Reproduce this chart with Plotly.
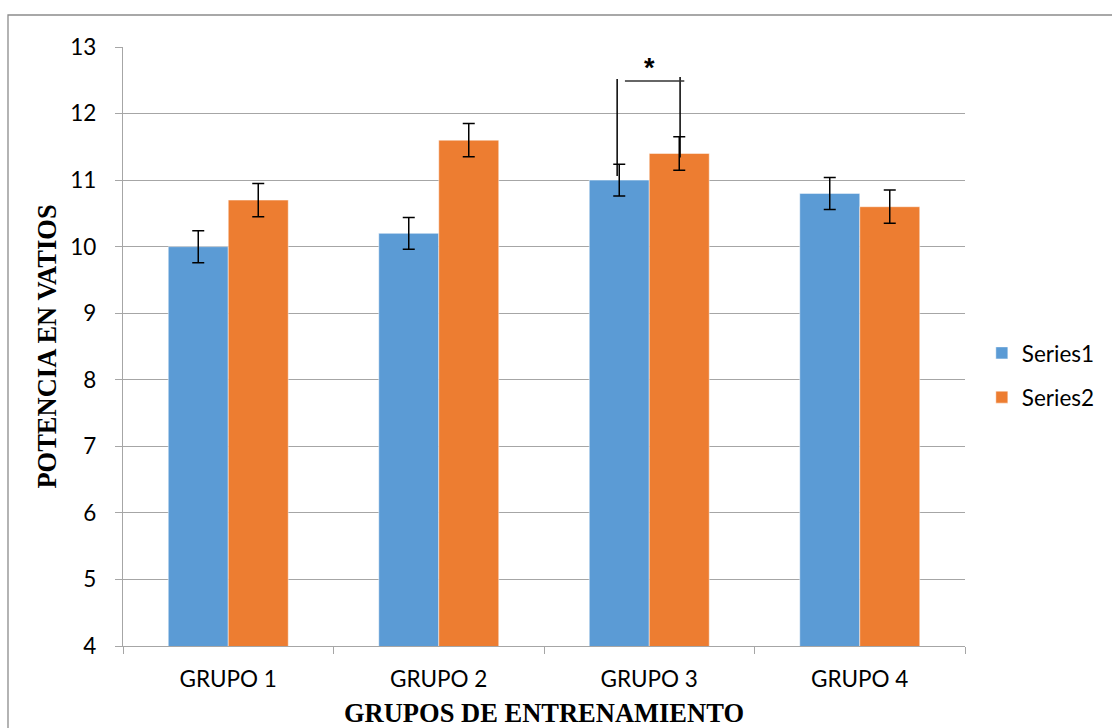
import plotly.graph_objects as go

categories = ["GRUPO 1", "GRUPO 2", "GRUPO 3", "GRUPO 4"]
series1 = [10.0, 10.2, 11.0, 10.8]
series2 = [10.7, 11.6, 11.4, 10.6]
series1_err = [0.24, 0.24, 0.24, 0.24]
series2_err = [0.25, 0.25, 0.25, 0.25]
y_ticks = [4, 5, 6, 7, 8, 9, 10, 11, 12, 13]

# significance bracket (GRUPO 3)
sig_group = 2
sig_left_top, sig_left_bottom = 12.52, 11.06
sig_right_top, sig_right_bottom = 12.55, 11.34
sig_bar_y = 12.49
sig_label = "*"
sig_label_y = 12.68

BLUE = "#5B9BD5"
ORANGE = "#ED7D31"
GRID = "#A6A6A6"

W, H = 1112, 728
ML, MR, MT, MB = 123, 147, 47, 82
bargap = 0.43
half = (1 - bargap) / 2  # width of one bar in category units

fig = go.Figure()
fig.add_trace(go.Bar(
    name="Series1", x=categories, y=series1, legendgroup="a",
    marker=dict(color=BLUE, line=dict(color="rgba(255,255,255,0.6)", width=0.8)),
    error_y=dict(type="data", array=series1_err, color="black", thickness=1.5, width=6),
))
fig.add_trace(go.Bar(
    name="Series2", x=categories, y=series2, legendgroup="b",
    marker=dict(color=ORANGE, line=dict(color="rgba(255,255,255,0.6)", width=0.8)),
    error_y=dict(type="data", array=series2_err, color="black", thickness=1.5, width=6),
))

lx = sig_group - half / 2 - 0.01
rx = sig_group + half / 2 + 0.004
shapes = [
    dict(type="line", xref="x", yref="y", x0=lx, x1=lx, y0=sig_left_bottom, y1=sig_left_top,
         line=dict(color="black", width=1.5)),
    dict(type="line", xref="x", yref="y", x0=rx, x1=rx, y0=sig_right_bottom, y1=sig_right_top,
         line=dict(color="black", width=1.5)),
    dict(type="line", xref="x", yref="y", x0=lx + 0.037, x1=rx + 0.02, y0=sig_bar_y, y1=sig_bar_y,
         line=dict(color="#333333", width=1.5)),
]
# outer chart frame (top and left edges visible, extends off-canvas)
pw, ph = W - ML - MR, H - MT - MB
shapes.append(dict(type="rect", xref="paper", yref="paper",
                   x0=(8 - ML) / pw, x1=(W + 20 - ML) / pw,
                   y0=-(H + 20 - MT - ph) / ph, y1=1 + (MT - 15) / ph,
                   line=dict(color="#8C8C8C", width=1.3), layer="below"))

FS = 22.5
TFS = 26.5
fig.update_layout(
    width=W, height=H,
    margin=dict(l=ML, r=MR, t=MT, b=MB, autoexpand=False),
    paper_bgcolor="white", plot_bgcolor="white",
    barmode="group", bargap=bargap, bargroupgap=0,
    font=dict(family="Lato, Liberation Sans, sans-serif", size=FS, color="black"),
    shapes=shapes,
    annotations=[dict(x=sig_group, y=sig_label_y, xref="x", yref="y", text="<b>" + sig_label + "</b>",
                      showarrow=False, font=dict(family="Liberation Sans", size=27, color="black"))],
    legend=dict(x=1.020, y=0.452, xanchor="left", yanchor="middle", font=dict(size=FS),
                tracegroupgap=12, itemwidth=30, bgcolor="rgba(0,0,0,0)"),
    xaxis=dict(
        type="category", range=[-0.5, 3.5], showgrid=False,
        showline=True, linecolor=GRID, linewidth=1.3,
        ticks="outside", tickson="boundaries", ticklen=7, tickcolor=GRID, tickwidth=1.3,
        tickfont=dict(size=FS), ticklabelstandoff=13,
        title=dict(text="<b>GRUPOS DE ENTRENAMIENTO</b>", standoff=15,
                   font=dict(family="Liberation Serif", size=TFS)),
    ),
    yaxis=dict(
        range=[4, 13], tickvals=y_ticks, showgrid=True, gridcolor=GRID, gridwidth=1.3,
        showline=True, linecolor=GRID, linewidth=1.3, zeroline=False,
        ticks="outside", ticklen=7, tickcolor=GRID, tickwidth=1.3,
        tickfont=dict(size=FS), ticklabelstandoff=14,
        title=dict(text="<b>POTENCIA EN VATIOS</b>", standoff=5,
                   font=dict(family="Liberation Serif", size=TFS)),
    ),
)

fig.write_html("out.html", config={"displayModeBar": False},
               post_script="document.body.style.margin='0px';document.body.style.overflow='hidden';")
